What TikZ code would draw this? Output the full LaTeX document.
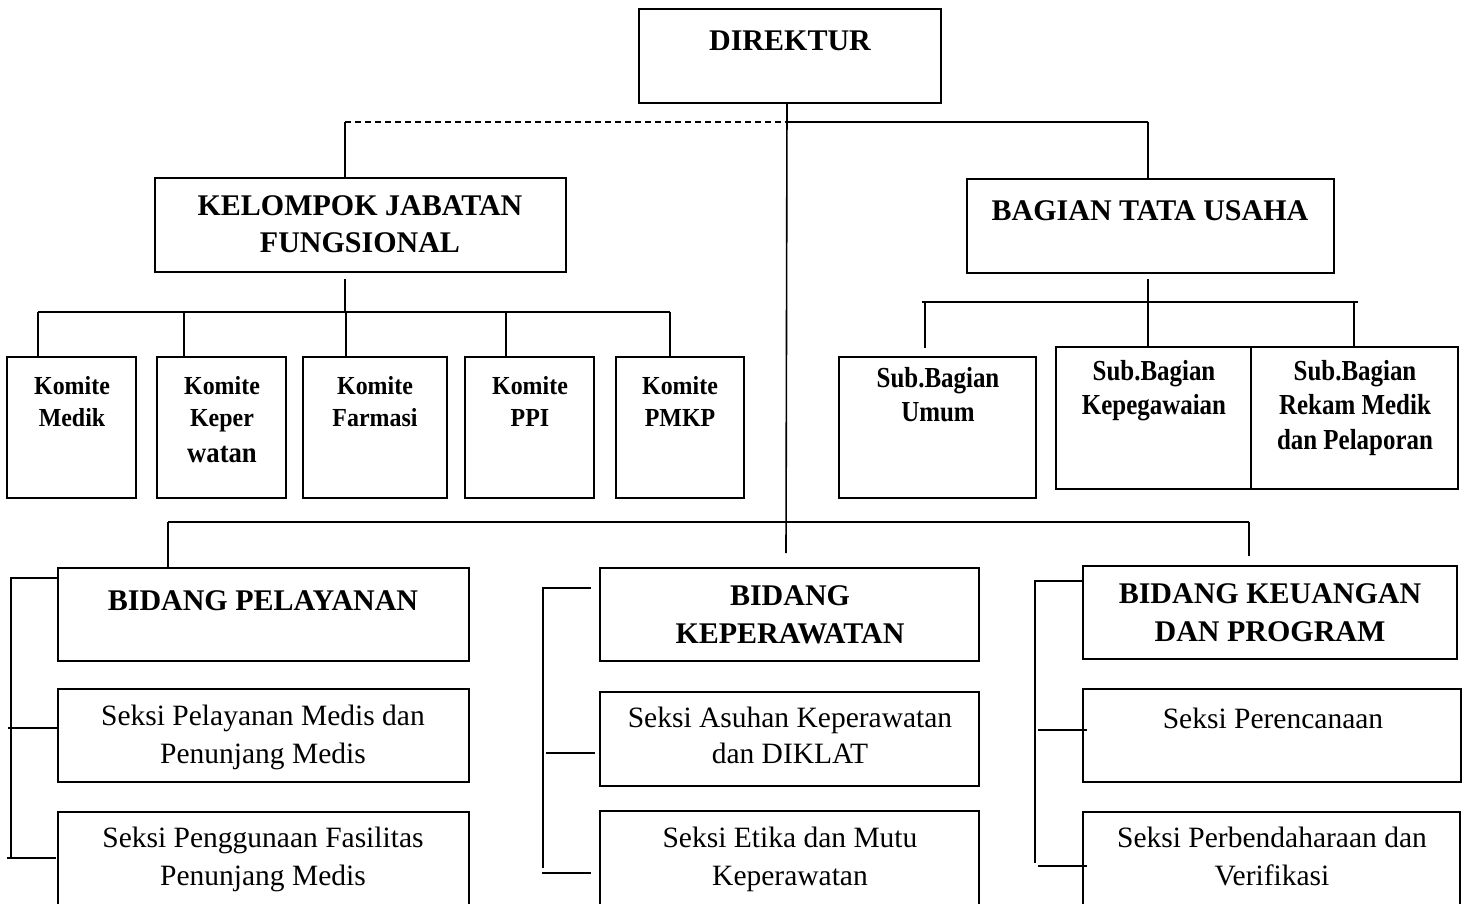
\documentclass[tikz,border=0pt]{standalone}
\usepackage{fontspec}
\setmainfont{Liberation Serif}
\newfontfamily\kmfont[FakeStretch=0.92]{Liberation Serif}
\newfontfamily\sbfont[FakeStretch=0.86]{Liberation Serif}
\newcommand\mybox[5]{\node[box, minimum width={(#4-#2)*1pt}, minimum height={(#5-#3)*1pt}] (#1) at (#2,#3) {};}
\newcommand\mytext[5]{\node[#4] (#1) at (#2,#3) {\begin{tabular}[t]{@{}c@{}}#5\end{tabular}};}
\begin{document}
\begin{tikzpicture}[x=1pt,y=-1pt,
  box/.style={draw, line width=1.8pt, inner sep=0pt, outer sep=0pt, anchor=north west},
  ln/.style={line width=1.6pt},
  dln/.style={line width=1.6pt, dash pattern=on 6pt off 4pt},
  hd/.style={font=\fontsize{30}{37}\selectfont\bfseries, inner sep=0pt, anchor=base},
  hdb/.style={font=\fontsize{30}{38.5}\selectfont\bfseries, inner sep=0pt, anchor=base},
  sk/.style={font=\fontsize{29.5}{38}\selectfont, inner sep=0pt, anchor=base},
  ska/.style={font=\fontsize{29.5}{36}\selectfont, inner sep=0pt, anchor=base},
  km/.style={font=\kmfont\bfseries\fontsize{26}{32}\selectfont, inner sep=0pt, anchor=base},
  sb/.style={font=\sbfont\bfseries\fontsize{29}{34.5}\selectfont, inner sep=0pt, anchor=base}]
\useasboundingbox (0,0) rectangle (1475,903);
\fill[white] (0,0) rectangle (1475,903);

% boxes
\mybox{dir}{639}{9}{941}{103}
\mybox{kjf}{155}{178}{566}{272}
\mybox{btu}{967}{179}{1334}{273}
\mybox{km1}{7}{357}{136}{498}
\mybox{km2}{157}{357}{286}{498}
\mybox{km3}{303}{357}{447}{498}
\mybox{km4}{465}{357}{594}{498}
\mybox{km5}{616}{357}{744}{498}
\mybox{sbu}{839}{357}{1036}{498}
\mybox{sbk}{1056}{347}{1251}{489}
\mybox{sbr}{1251}{347}{1458}{489}
\mybox{bp}{58}{568}{469}{661}
\mybox{s11}{58}{689}{469}{782}
\mybox{s12}{58}{812}{469}{915}
\mybox{bk}{600}{568}{979}{661}
\mybox{s21}{600}{692}{979}{786}
\mybox{s22}{600}{811}{979}{915}
\mybox{bu}{1083}{566}{1457}{659}
\mybox{s31}{1083}{689}{1461}{782}
\mybox{s32}{1083}{812}{1460}{915}

% texts
\mytext{tdir}{790}{50}{hd}{DIREKTUR}
\mytext{tkjf}{360}{215}{hd}{KELOMPOK JABATAN\\FUNGSIONAL}
\mytext{tbtu}{1150}{220}{hd}{BAGIAN TATA USAHA}
\mytext{tkm1}{72}{394}{km}{Komite\\Medik}
\mytext{tkm2}{222}{394}{km}{Komite\\Keper\\[4pt]{\fontsize{29}{32}\selectfont watan}}
\mytext{tkm3}{375}{394}{km}{Komite\\Farmasi}
\mytext{tkm4}{530}{394}{km}{Komite\\PPI}
\mytext{tkm5}{680}{394}{km}{Komite\\PMKP}
\mytext{tsbu}{938}{387}{sb}{Sub.Bagian\\Umum}
\mytext{tsbk}{1154}{380}{sb}{Sub.Bagian\\Kepegawaian}
\mytext{tsbr}{1355}{380}{sb}{Sub.Bagian\\Rekam Medik\\dan  Pelaporan}
\mytext{tbp}{263}{610}{hd}{BIDANG PELAYANAN}
\mytext{ts11}{263}{725}{sk}{Seksi Pelayanan Medis dan\\Penunjang Medis}
\mytext{ts12}{263}{847}{sk}{Seksi Penggunaan Fasilitas\\Penunjang Medis}
\mytext{tbk}{790}{605}{hdb}{BIDANG\\KEPERAWATAN}
\mytext{ts21}{790}{727}{ska}{Seksi Asuhan Keperawatan\\dan DIKLAT}
\mytext{ts22}{790}{847}{sk}{Seksi Etika  dan Mutu\\Keperawatan}
\mytext{tbu}{1270}{603}{hdb}{BIDANG KEUANGAN\\DAN PROGRAM}
\mytext{ts31}{1273}{728}{sk}{Seksi Perencanaan}
\mytext{ts32}{1272}{847}{sk}{Seksi Perbendaharaan dan\\Verifikasi}

% top connectors
\coordinate (jt) at (787,122);
\coordinate (jk) at (345,122);
\coordinate (jb) at (1148,122);
\coordinate (cb) at (786,553);
\draw[ln] (dir.south -| jt) -- (cb);
\draw[dln] (jk) -- (jt);
\draw[ln] (jt) -- (jb);
\draw[ln] (jk) -- (kjf.north -| jk);
\draw[ln] (jb) -- (btu.north -| jb);

% komite bus
\coordinate (ks) at (345,279);
\coordinate (kb0) at (38,312);
\coordinate (kb1) at (184,312);
\coordinate (kb2) at (346,312);
\coordinate (kb3) at (506,312);
\coordinate (kb4) at (670,312);
\draw[ln] (ks) -- (ks |- kb0);
\draw[ln] (kb0) -- (kb4);
\draw[ln] (kb0) -- (km1.north -| kb0);
\draw[ln] (kb1) -- (km2.north -| kb1);
\draw[ln] (kb2) -- (km3.north -| kb2);
\draw[ln] (kb3) -- (km4.north -| kb3);
\draw[ln] (kb4) -- (km5.north -| kb4);

% sub bagian bus
\coordinate (bs) at (1148,279);
\coordinate (sb0) at (922,302);
\coordinate (sb3) at (1358,302);
\coordinate (su0) at (925,302);
\coordinate (su1) at (925,348);
\coordinate (sk0) at (1148,302);
\coordinate (sr0) at (1354,302);
\draw[ln] (bs) -- (sk0);
\draw[ln] (sb0) -- (sb3);
\draw[ln] (su0) -- (su1);
\draw[ln] (sk0) -- (sbk.north -| sk0);
\draw[ln] (sr0) -- (sbr.north -| sr0);

% bottom bus
\coordinate (bb0) at (168,522);
\coordinate (bb2) at (1249,522);
\coordinate (bb2e) at (1249,556);
\draw[ln] (bb0) -- (bb2);
\draw[ln] (bb0) -- (bp.north -| bb0);
\draw[ln] (bb2) -- (bb2e);

% left bracket
\coordinate (lt) at (11,578);
\coordinate (lv) at (11,858);
\coordinate (lm) at (8,728);
\coordinate (lb0) at (7,858);
\coordinate (lb1) at (56,858);
\draw[ln] (bp.west |- lt) -- (lt) -- (lv);
\draw[ln] (lm) -- (lm -| s11.west);
\draw[ln] (lb0) -- (lb1);

% middle bracket
\coordinate (mt0) at (542,588);
\coordinate (mt1) at (591,588);
\coordinate (mv0) at (543,588);
\coordinate (mv1) at (543,868);
\coordinate (mm0) at (546,753);
\coordinate (mm1) at (595,753);
\coordinate (mb0) at (542,873);
\coordinate (mb1) at (591,873);
\draw[ln] (mt0) -- (mt1);
\draw[ln] (mv0) -- (mv1);
\draw[ln] (mm0) -- (mm1);
\draw[ln] (mb0) -- (mb1);

% right bracket
\coordinate (rt) at (1035,581);
\coordinate (rv) at (1035,863);
\coordinate (rm0) at (1038,730);
\coordinate (rm1) at (1087,730);
\coordinate (rb0) at (1038,866);
\coordinate (rb1) at (1087,866);
\draw[ln] (bu.west |- rt) -- (rt) -- (rv);
\draw[ln] (rm0) -- (rm1);
\draw[ln] (rb0) -- (rb1);
\end{tikzpicture}
\end{document}
